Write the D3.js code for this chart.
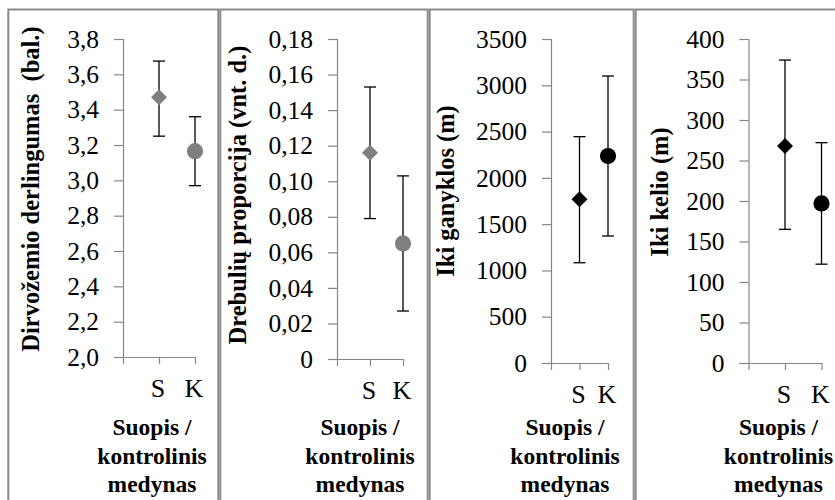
<!DOCTYPE html>
<html>
<head>
<meta charset="utf-8">
<script src="https://cdn.jsdelivr.net/npm/d3@7"></script>
<style>
  html, body { margin: 0; padding: 0; background: #fff; }
  svg { display: block; }
  text { font-family: "Liberation Serif", "Times New Roman", serif; fill: #000; }
</style>
</head>
<body>
<svg id="chart" width="835" height="500"></svg>
<script>
// ---------- DATA ----------
const categories = ["S", "K"];
const markerShapes = ["diamond", "circle"];

const fertilityMean = [3.47, 3.165];
const fertilityLow  = [3.25, 2.97];
const fertilityHigh = [3.675, 3.36];
const fertilityTicks = [2.0, 2.2, 2.4, 2.6, 2.8, 3.0, 3.2, 3.4, 3.6, 3.8];

const aspenMean = [0.116, 0.065];
const aspenLow  = [0.079, 0.027];
const aspenHigh = [0.153, 0.103];
const aspenTicks = [0, 0.02, 0.04, 0.06, 0.08, 0.10, 0.12, 0.14, 0.16, 0.18];

const pastureMean = [1768, 2236];
const pastureLow  = [1083, 1372];
const pastureHigh = [2445, 3100];
const pastureTicks = [0, 500, 1000, 1500, 2000, 2500, 3000, 3500];

const roadMean = [268, 197];
const roadLow  = [165, 122];
const roadHigh = [374, 272];
const roadTicks = [0, 50, 100, 150, 200, 250, 300, 350, 400];

const yTitles = ["Dirvožemio derlingumas  (bal.)", "Drebulių proporcija (vnt. d.)", "Iki ganyklos (m)", "Iki kelio (m)"];
const xTitleLines = ["Suopis /", "kontrolinis", "medynas"];

// ---------- LAYOUT ----------
const svg = d3.select("#chart");
const panels = [
  { mean: fertilityMean, low: fertilityLow, high: fertilityHigh, ticks: fertilityTicks,
    fmt: v => d3.format(".1f")(v).replace(".", ","),
    box: [8.3, 218.3], axisX: 123, xEnd: 195, yTop: 39, yBot: 357, color: "#7f7f7f", titleX: 30, titleY: 189 },
  { mean: aspenMean, low: aspenLow, high: aspenHigh, ticks: aspenTicks,
    fmt: v => v === 0 ? "0" : d3.format(".2f")(v).replace(".", ","),
    box: [220.3, 427.7], axisX: 337, xEnd: 403, yTop: 39, yBot: 359, color: "#7f7f7f", titleX: 237, titleY: 195 },
  { mean: pastureMean, low: pastureLow, high: pastureHigh, ticks: pastureTicks,
    fmt: v => String(v),
    box: [429.7, 633.7], axisX: 551, xEnd: 608, yTop: 39, yBot: 363, color: "#000", titleX: 445, titleY: 191 },
  { mean: roadMean, low: roadLow, high: roadHigh, ticks: roadTicks,
    fmt: v => String(v),
    box: [635.7, 850], axisX: 748.5, xEnd: 821.5, yTop: 39, yBot: 363, color: "#000", titleX: 659, titleY: 192 }
];

const axisColor = "#868686";

const diamondSymbol = {
  draw(ctx, size) {
    const r = Math.sqrt(size / 2);
    ctx.moveTo(0, -r); ctx.lineTo(r, 0); ctx.lineTo(0, r); ctx.lineTo(-r, 0); ctx.closePath();
  }
};

panels.forEach((p, i) => {
  const g = svg.append("g");
  // panel frame
  g.append("rect")
    .attr("x", p.box[0]).attr("y", 9.5)
    .attr("width", p.box[1] - p.box[0]).attr("height", 520)
    .attr("fill", "none").attr("stroke", "#8a8a8a").attr("stroke-width", 2);

  const y = d3.scaleLinear()
    .domain([p.ticks[0], p.ticks[p.ticks.length - 1]])
    .range([p.yBot, p.yTop]);
  const x = d3.scaleLinear().domain([0, 2]).range([p.axisX, p.xEnd]);

  // y axis
  const yAxis = d3.axisLeft(y).tickValues(p.ticks).tickFormat(p.fmt)
    .tickSizeInner(9).tickSizeOuter(9).tickPadding(15);
  const ya = g.append("g").attr("transform", `translate(${p.axisX},0)`).call(yAxis);
  ya.selectAll("path, line").attr("stroke", axisColor).attr("stroke-width", 1.2);
  ya.selectAll("text").style("font-family", "Liberation Serif").style("font-size", "25.5px")
    .attr("fill", "#000");

  // x axis
  const xAxis = d3.axisBottom(x).tickValues([0, 1, 2]).tickFormat(() => "")
    .tickSizeInner(7).tickSizeOuter(0);
  const xa = g.append("g").attr("transform", `translate(0,${p.yBot})`).call(xAxis);
  xa.selectAll("path, line").attr("stroke", axisColor).attr("stroke-width", 1.2);

  // category labels
  g.selectAll(".cat").data(categories).enter().append("text")
    .attr("x", (d, j) => x(j + 1) - 1)
    .attr("y", p.yBot + 40)
    .attr("text-anchor", "middle")
    .style("font-size", "26px")
    .text(d => d);

  // x title
  const cx = x(2) - 43;
  g.selectAll(".xt").data(xTitleLines).enter().append("text")
    .attr("x", cx)
    .attr("y", (d, j) => 435 + j * 28.5)
    .attr("text-anchor", "middle")
    .style("font-size", "23.5px").style("font-weight", "bold")
    .text(d => d);

  // y title
  g.append("text")
    .attr("transform", `translate(${p.titleX},${p.titleY}) rotate(-90)`)
    .attr("text-anchor", "middle")
    .attr("dy", "0.35em")
    .style("font-size", "24.5px").style("font-weight", "bold")
    .style("white-space", "pre")
    .text(yTitles[i]);

  // error bars
  categories.forEach((c, j) => {
    const px = x(j + 1);
    g.append("line").attr("x1", px).attr("x2", px)
      .attr("y1", y(p.low[j])).attr("y2", y(p.high[j]))
      .attr("stroke", "#000").attr("stroke-width", 1.3);
    [p.low[j], p.high[j]].forEach(v => {
      g.append("line").attr("x1", px - 6).attr("x2", px + 6)
        .attr("y1", y(v)).attr("y2", y(v))
        .attr("stroke", "#000").attr("stroke-width", 1.3);
    });
    const sym = markerShapes[j] === "diamond" ? diamondSymbol : d3.symbolCircle;
    const size = markerShapes[j] === "diamond" ? 128 : 205;
    g.append("path").attr("d", d3.symbol().type(sym).size(size)())
      .attr("transform", `translate(${px},${y(p.mean[j])})`)
      .attr("fill", p.color);
  });
});
</script>
</body>
</html>
